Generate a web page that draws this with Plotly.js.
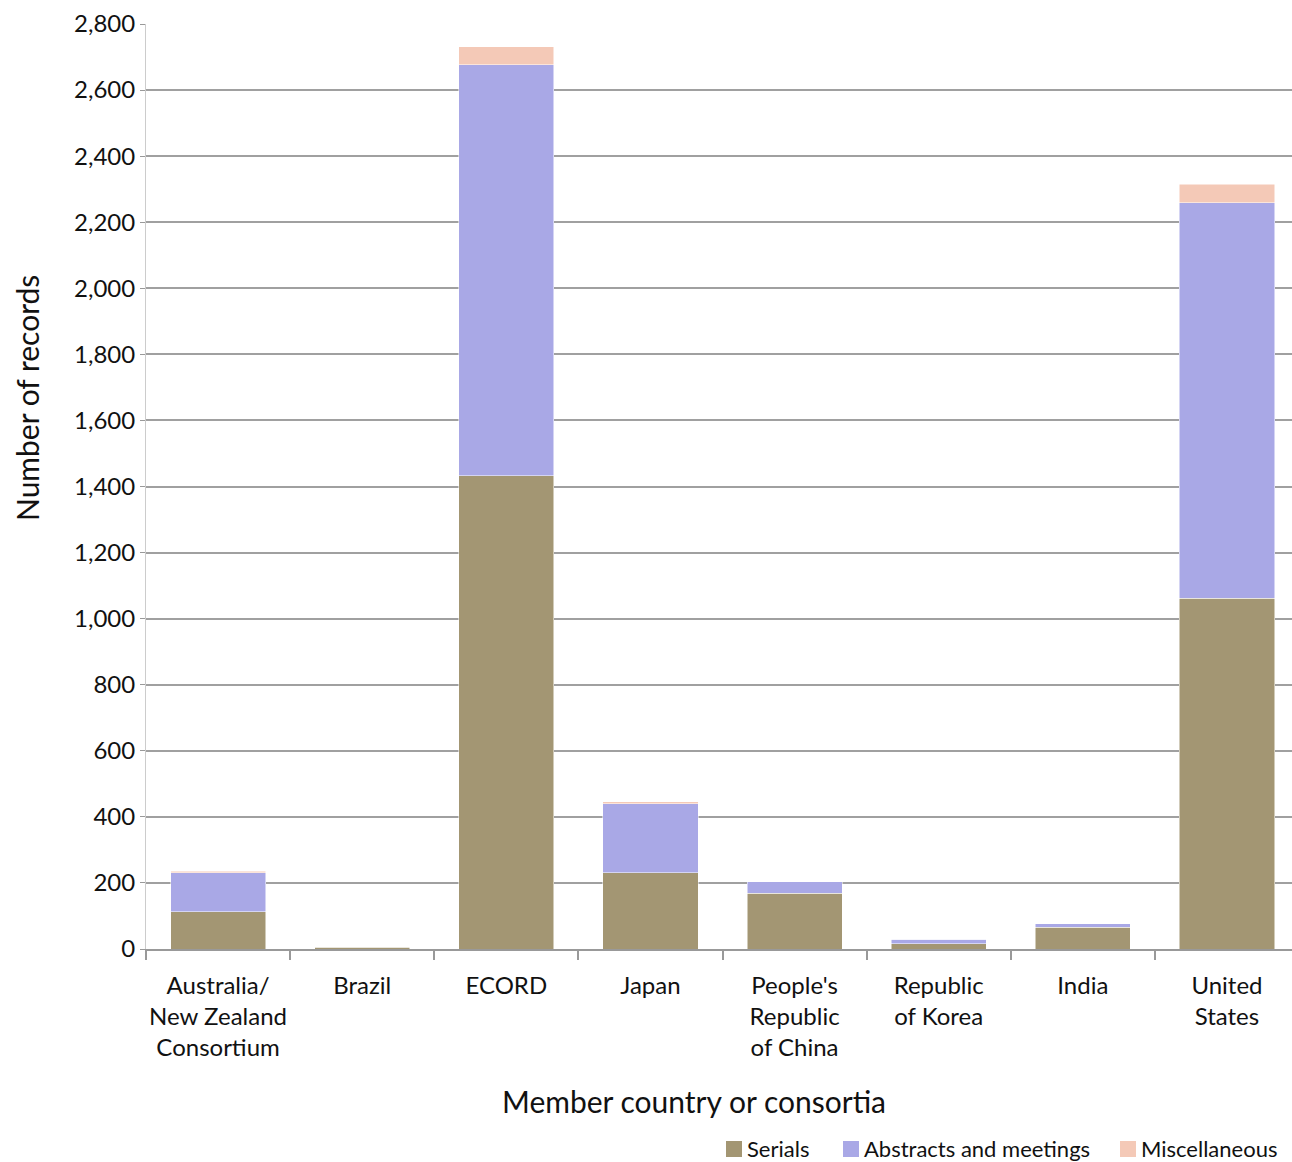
<!DOCTYPE html>
<html>
<head>
<meta charset="utf-8">
<script src="https://cdn.plot.ly/plotly-3.0.1.min.js"></script>
<style>html,body{margin:0;padding:0;background:#fff;overflow:hidden;}#chart{width:1299px;height:1162px;}</style>
</head>
<body>
<div id="chart"></div>
<script>
const categories = ["Australia/<br>New Zealand<br>Consortium", "Brazil", "ECORD", "Japan", "People's<br>Republic<br>of China", "Republic<br>of Korea", "India", "United<br>States"];
const serials = [113, 5, 1432, 231, 169, 16, 66, 1062];
const abstracts = [118, 2, 1245, 208, 34, 13, 10, 1197];
const misc = [4, 0, 54, 6, 0, 0, 1, 56];
const seriesNames = ["Serials", "Abstracts and meetings", "Miscellaneous"];
const colors = ["#A39673", "#A9A8E6", "#F4C9B7"];
const xTitle = "Member country or consortia";
const yTitle = "Number of records";

const font = "Lato, 'Open Sans', sans-serif";
const W = 1299, H = 1162, ML = 146, MR = 0, MT = 24, MB = 213;
const PW = W - ML - MR, PH = H - MT - MB;
const px = v => (v - ML) / PW;
const py = v => (H - MB - v) / PH;

const traces = [serials, abstracts, misc].map((vals, i) => ({
  type: "bar",
  name: seriesNames[i],
  x: categories,
  y: vals,
  marker: {color: colors[i], line: {color: "#ffffff", width: 0.5}},
  hoverinfo: "x+y+name",
  showlegend: false
}));

// manual legend (squares + labels) at the bottom right
const legendX = [726, 843, 1120];
const shapes = [];
const annotations = [];
seriesNames.forEach((n, i) => {
  shapes.push({type: "rect", xref: "paper", yref: "paper",
    x0: px(legendX[i]), x1: px(legendX[i] + 16), y0: py(1157), y1: py(1141),
    fillcolor: colors[i], line: {width: 0}});
  annotations.push({xref: "paper", yref: "paper", x: px(legendX[i] + 19), y: py(1148),
    xanchor: "left", yanchor: "middle", showarrow: false, text: n,
    font: {size: 22, family: font, color: "#111"}});
});
annotations.push({xref: "paper", yref: "paper", x: px(694), y: py(1101), xanchor: "center", yanchor: "middle",
  showarrow: false, text: xTitle, font: {size: 30, family: font, color: "#111"}});
annotations.push({xref: "paper", yref: "paper", x: px(27), y: py(398), xanchor: "center", yanchor: "middle",
  showarrow: false, text: yTitle, textangle: -90, font: {size: 30, family: font, color: "#111"}});

const layout = {
  width: W, height: H,
  margin: {l: ML, r: MR, t: MT, b: MB},
  barmode: "stack",
  bargap: 0.34,
  paper_bgcolor: "#fff",
  plot_bgcolor: "#fff",
  font: {family: font, size: 24, color: "#111"},
  xaxis: {
    type: "category",
    automargin: false,
    tickangle: 0,
    tickson: "boundaries",
    ticks: "outside",
    ticklen: 9,
    tickwidth: 2,
    tickcolor: "#999",
    showline: true,
    linecolor: "#999",
    linewidth: 2,
    showgrid: false,
    ticklabelstandoff: 14,
    tickfont: {size: 24, family: font, color: "#111"}
  },
  yaxis: {
    automargin: false,
    range: [0, 2800],
    dtick: 200,
    tickformat: ",d",
    ticks: "outside",
    ticklen: 5,
    tickcolor: "#999",
    showline: true,
    linecolor: "#ccc",
    linewidth: 1,
    gridcolor: "#a0a0a0",
    gridwidth: 2,
    zeroline: false,
    tickfont: {size: 24, family: font, color: "#111"}
  },
  showlegend: false,
  shapes: shapes,
  annotations: annotations
};

Plotly.newPlot("chart", traces, layout, {displayModeBar: false});
</script>
</body>
</html>
